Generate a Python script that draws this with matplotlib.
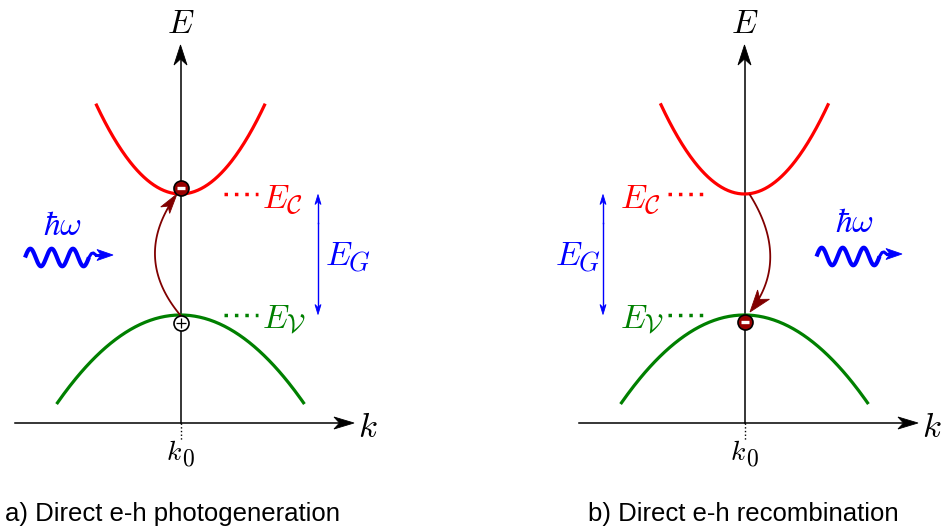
import numpy as np
import matplotlib.pyplot as plt
from matplotlib.patches import Polygon

plt.rcParams['mathtext.fontset'] = 'cm'
plt.rcParams['font.family'] = ['Liberation Sans', 'DejaVu Sans']

# band parameters per panel (k in units, E relative to the k axis)
captions = ['a) Direct e-h photogeneration', 'b) Direct e-h recombination']
E_c = [2.29, 2.29]          # conduction band minimum
E_v = [1.08, 1.08]          # valence band maximum
curv_c = [1.26, 1.28]       # conduction band curvature
curv_v = [0.58, 0.58]       # valence band curvature
k_c = [0.84, 0.835]         # half k-range of conduction band drawn
k_v = [1.23, 1.23]          # half k-range of valence band drawn
k0 = [0.0, 0.0]

RED = '#ff0000'
GREEN = '#008000'
BLUE = '#0000ff'
MAROON = '#800000'
FS = 24
FS_SUB = 19

W, H = 941, 529
fig = plt.figure(figsize=(W / 100, H / 100), dpi=100)


def make_axes(left_px, right_px, k0_px):
    # 100 px per unit on both axes, so shapes drawn in data units stay round
    ax = fig.add_axes([left_px / W, 0, (right_px - left_px) / W, 1])
    ax.set_xlim((left_px - k0_px) / 100, (right_px - k0_px) / 100)
    ax.set_ylim((423 - H) / 100, 423 / 100)
    ax.axis('off')
    return ax


def head(ax, tip, d, L, w, n, color, z=4):
    # stealth style arrow head
    tip = np.asarray(tip, float)
    d = np.asarray(d, float)
    d = d / np.hypot(*d)
    p = np.array([-d[1], d[0]])
    pts = [tip, tip - L * d + w * p, tip - (L - n) * d, tip - L * d - w * p]
    ax.add_patch(Polygon(pts, closed=True, fc=color, ec=color, lw=0.6, zorder=z))


def arrow(ax, p0, p1, color='black', lw=1.1, L=0.2, w=0.065, n=0.06):
    p0 = np.asarray(p0, float)
    p1 = np.asarray(p1, float)
    d = (p1 - p0) / np.hypot(*(p1 - p0))
    end = p1 - (L - n) * d
    ax.plot([p0[0], end[0]], [p0[1], end[1]], color=color, lw=lw)
    head(ax, p1, d, L, w, n, color)


def curved_arrow(ax, p0, ctrl, p1, L, w, n):
    t = np.linspace(0, 1, 100)[:, None]
    p0, ctrl, p1 = (np.asarray(v, float) for v in (p0, ctrl, p1))
    pts = (1 - t) ** 2 * p0 + 2 * t * (1 - t) * ctrl + t ** 2 * p1
    ax.plot(pts[:-8, 0], pts[:-8, 1], color=MAROON, lw=1.3)
    head(ax, p1, p1 - ctrl, L, w, n, MAROON)


def photon(ax, x_start, x_tip, yc, period, periods=3, amp=0.088):
    # wavy photon arrow
    x = np.linspace(x_start, x_start + periods * period, 200)
    y = yc + amp * np.sin(2 * np.pi * (x - x_start) / period)
    ax.plot(x, y, color=BLUE, lw=3.0, solid_capstyle='butt')
    xe = x[-1]
    hx = [xe, xe + 0.025, xe + 0.045, xe + 0.07]
    hy = [yc, yc + 0.04, yc + 0.045, yc + 0.025]
    ax.plot(hx, hy, color=BLUE, lw=2.2)
    arrow(ax, (hx[-1], hy[-1]), (x_tip, yc + 0.025), color=BLUE, lw=2.2,
          L=0.16, w=0.055, n=0.04)


def electron(ax, x, y):
    ax.plot(x, y, 'o', ms=10.8, mfc='#990000', mec='black', mew=1.2, zorder=5)
    ax.plot(x, y, marker='_', ms=6, mec='white', mew=2.4, zorder=6)


def hole(ax, x, y):
    ax.plot(x, y, 'o', ms=10.8, mfc='white', mec='black', mew=1.2, zorder=5)
    ax.plot(x, y, marker='+', ms=7, mec='black', mew=0.9, zorder=6)


def label(ax, x, y, main, sub, dx, dy, color):
    ax.text(x, y, '$%s$' % main, color=color, fontsize=FS, ha='left', va='baseline')
    ax.text(x + dx, y - dy, '$%s$' % sub, color=color, fontsize=FS_SUB,
            ha='left', va='baseline')


def panel(ax, i):
    kc = np.linspace(-k_c[i], k_c[i], 200)
    kv = np.linspace(-k_v[i], k_v[i], 200)
    # axes
    arrow(ax, (-1.655, 0), (1.735, 0), L=0.2, w=0.06, n=0.055)
    arrow(ax, (k0[i], 0), (k0[i], 3.78), L=0.2, w=0.065, n=0.06)
    ax.plot([k0[i], k0[i]], [0, -0.17], color='black', lw=1.0, ls=':')
    ax.text(k0[i], 3.90, '$E$', fontsize=FS, ha='center', va='baseline')
    ax.text(1.875, -0.14, '$k$', fontsize=FS + 1, ha='center', va='baseline')
    ax.text(k0[i] - 0.14, -0.37, '$k$', fontsize=FS_SUB + 1, ha='left', va='baseline')
    ax.text(k0[i] + 0.015, -0.42, '$0$', fontsize=FS_SUB - 2, ha='left', va='baseline')
    # bands
    ax.plot(kc, E_c[i] + curv_c[i] * (kc - k0[i]) ** 2, color=RED, lw=2.3)
    ax.plot(kv, E_v[i] - curv_v[i] * (kv - k0[i]) ** 2, color=GREEN, lw=2.3)


# panel a
ax = make_axes(0, 470.5, 180.5)
panel(ax, 0)
ax.plot([0.43, 0.77], [E_c[0], E_c[0]], color=RED, lw=2.5, ls=(0, (1, 2)))
ax.plot([0.43, 0.77], [E_v[0], E_v[0]], color=GREEN, lw=2.5, ls=(0, (1, 2)))
label(ax, 0.815, 2.15, 'E', r'\mathcal{C}', 0.24, 0.05, RED)
label(ax, 0.815, 0.95, 'E', r'\mathcal{V}', 0.235, 0.04, GREEN)
arrow(ax, (1.375, 2.0), (1.375, E_c[0] - 0.005), color=BLUE, lw=1.0, L=0.1, w=0.03, n=0.03)
arrow(ax, (1.375, 2.0), (1.375, E_v[0] + 0.005), color=BLUE, lw=1.0, L=0.1, w=0.03, n=0.03)
label(ax, 1.445, 1.58, 'E', 'G', 0.235, 0.05, BLUE)
ax.text(-1.18, 1.88, r'$\hbar\omega$', color=BLUE, fontsize=FS, ha='center', va='baseline')
photon(ax, -1.555, -0.675, 1.655, 0.213)
curved_arrow(ax, (0.005, 1.07), (-0.495, 1.66), (-0.035, 2.29), L=0.2, w=0.055, n=0.05)
electron(ax, 0.0, 2.35)
hole(ax, 0.0, 1.0)

# panel b
ax = make_axes(470.5, 941, 744.5)
panel(ax, 1)
ax.plot([-0.765, -0.42], [E_c[1], E_c[1]], color=RED, lw=2.5, ls=(0, (1, 2)))
ax.plot([-0.765, -0.42], [E_v[1], E_v[1]], color=GREEN, lw=2.5, ls=(0, (1, 2)))
label(ax, -1.245, 2.15, 'E', r'\mathcal{C}', 0.24, 0.05, RED)
label(ax, -1.245, 0.95, 'E', r'\mathcal{V}', 0.235, 0.04, GREEN)
arrow(ax, (-1.415, 2.0), (-1.415, E_c[1] - 0.005), color=BLUE, lw=1.0, L=0.1, w=0.03, n=0.03)
arrow(ax, (-1.415, 2.0), (-1.415, E_v[1] + 0.005), color=BLUE, lw=1.0, L=0.1, w=0.03, n=0.03)
label(ax, -1.895, 1.58, 'E', 'G', 0.235, 0.05, BLUE)
ax.text(1.095, 1.91, r'$\hbar\omega$', color=BLUE, fontsize=FS, ha='center', va='baseline')
photon(ax, 0.72, 1.575, 1.665, 0.21)
curved_arrow(ax, (0.055, 2.28), (0.46, 1.63), (0.055, 1.11), L=0.22, w=0.075, n=0.06)
electron(ax, 0.0, 1.01)

fig.text(5 / W, 1 - 514 / H, captions[0], fontsize=18.5, ha='left', va='center')
fig.text(588 / W, 1 - 514 / H, captions[1], fontsize=18.5, ha='left', va='center')

fig.savefig('out.png', dpi=100)
